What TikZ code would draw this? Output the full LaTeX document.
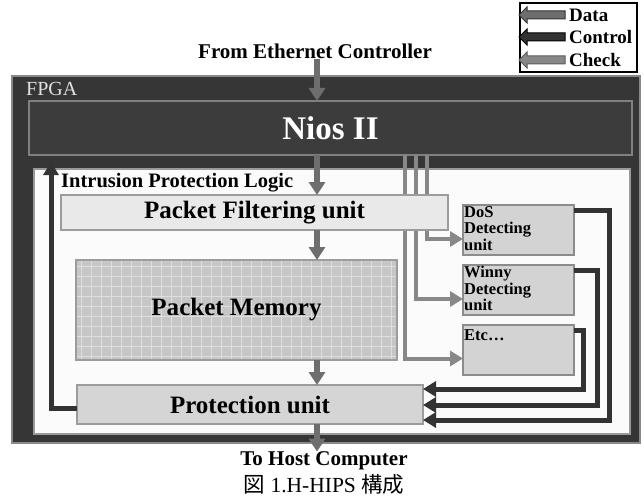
\documentclass[tikz,border=0pt]{standalone}
\usepackage{fontspec}
\setmainfont{Liberation Serif}
\newfontfamily\cjk{Noto Sans CJK JP}
\usetikzlibrary{arrows.meta,shapes.arrows,calc}
\definecolor{fpgafill}{HTML}{363636}
\definecolor{fpgaline}{HTML}{8A8A8A}
\definecolor{niosfill}{HTML}{3C3C3C}
\definecolor{niosline}{HTML}{808080}
\definecolor{iplfill}{HTML}{FBFBFB}
\definecolor{iplline}{HTML}{9A9A9A}
\definecolor{pffill}{HTML}{E9E9E9}
\definecolor{pmfill}{HTML}{C6C6C6}
\definecolor{pmgrid}{HTML}{DEDEDE}
\definecolor{pufill}{HTML}{D5D5D5}
\definecolor{detfill}{HTML}{D3D3D3}
\definecolor{boxline}{HTML}{9C9C9C}
\definecolor{datac}{HTML}{6E6E6E}
\definecolor{ctrlc}{HTML}{333333}
\definecolor{checkc}{HTML}{888888}
\begin{document}
\begin{tikzpicture}[x=1pt,y=-1pt,
  box/.style={draw, line width=2pt, inner sep=0pt, outer sep=0pt},
  bigtxt/.style={font=\fontsize{25}{30}\selectfont\bfseries},
  dettxt/.style={font=\fontsize{16.5}{16.5}\selectfont\bfseries, align=left, inner sep=1pt, anchor=north west},
  labtxt/.style={font=\fontsize{21}{25}\selectfont\bfseries, inner sep=0pt},
  dataarr/.style={draw=datac, line width=6pt, -{Triangle[width=16pt,length=13pt]}},
  ctrlarr/.style={draw=ctrlc, line width=5pt, -{Triangle[width=15pt,length=13pt]}},
  checkarr/.style={draw=checkc, line width=4pt, -{Triangle[width=15pt,length=13pt]}},
  legarr/.style={single arrow, shape border rotate=180, minimum height=46pt, minimum width=15pt, single arrow head extend=4pt, inner sep=3.5pt, line width=1pt},
  legtxt/.style={font=\fontsize{19}{22}\selectfont\bfseries, anchor=west, inner sep=0pt}
]
\useasboundingbox (0,0) rectangle (644,497);

% legend
\node[draw=black, line width=1.5pt, fill=white, minimum width=117pt, minimum height=69pt, inner sep=0pt] (legend) at (578.5,37.5) {};
\node[legarr, draw=ctrlc, fill=datac] (legdata) at (544,15) {};
\node[legarr, draw=black, fill=ctrlc] (legctrl) at (544,37) {};
\node[legarr, draw=ctrlc!80, fill=checkc] (legcheck) at (544,60) {};
\node[legtxt] (ltdata) at (569,15) {Data};
\node[legtxt] (ltctrl) at (569,37) {Control};
\node[legtxt] (ltcheck) at (569,60) {Check};

% outer frames
\node[box, draw=fpgaline, fill=fpgafill, minimum width=628pt, minimum height=367pt] (fpga) at (326,259.5) {};
\node[anchor=west, inner sep=0pt, text=white!88!black, font=\fontsize{20}{24}\selectfont] (fpgalab) at (26,89) {FPGA};
\node[box, draw=niosline, fill=niosfill, minimum width=603pt, minimum height=54pt, text=white, font=\fontsize{33}{38}\selectfont\bfseries] (nios) at (330.5,128) {Nios II};
\node[box, draw=iplline, fill=iplfill, minimum width=596pt, minimum height=265pt] (ipl) at (332,301.5) {};
\node[anchor=west, inner sep=0pt, font=\fontsize{20.5}{24}\selectfont\bfseries] (ipllab) at (61,183) {Intrusion Protection Logic};

% external labels
\node[labtxt] (eth) at (315,51) {From Ethernet Controller};
\node[labtxt] (host) at (324,461) {To Host Computer};
\node[inner sep=0pt, font=\fontsize{21.5}{25}\selectfont] (cap) at (324,484) {{\cjk 図} 1.H-HIPS {\cjk 構成}};

% column coordinates
\coordinate (colx) at (317,0);
\coordinate (upx) at (51,0);
\coordinate (k1) at (427,0);
\coordinate (k2) at (416,0);
\coordinate (k3) at (405,0);

% detector boxes
\node[box, draw=boxline!90!black, fill=detfill, minimum width=111pt, minimum height=50pt] (dos) at (518.5,230) {};
\node[dettxt] (dostxt) at (dos.north west) {DoS\\Detecting\\unit};
\node[box, draw=boxline!90!black, fill=detfill, minimum width=111pt, minimum height=50pt] (win) at (518.5,290) {};
\node[dettxt] (wintxt) at (win.north west) {Winny\\Detecting\\unit};
\node[box, draw=boxline!90!black, fill=detfill, minimum width=111pt, minimum height=50pt] (etc) at (518.5,350) {};
\node[dettxt] (etctxt) at ($(etc.north west)+(0,3)$) {Etc\dots};

% check lines (behind packet filtering unit)
\draw[checkarr] (nios.south -| k1) |- ($(dos.west)+(0,9)$);
\draw[checkarr] (nios.south -| k2) |- ($(win.west)+(0,9)$);
\draw[checkarr] (nios.south -| k3) |- ($(etc.west)+(0,8.5)$);

% inner units
\node[box, draw=boxline, fill=pffill, minimum width=387pt, minimum height=35pt, bigtxt] (pf) at (254.5,212.5) {Packet Filtering unit};
\node[box, draw=boxline, fill=pmfill, minimum width=321pt, minimum height=100pt, bigtxt,
  path picture={\draw[pmgrid, line width=0.7pt, step=10pt] (path picture bounding box.south west) grid (path picture bounding box.north east);}] (pm) at (236.5,310) {Packet Memory};
\node[box, draw=boxline, fill=pufill, minimum width=346pt, minimum height=39pt, bigtxt] (pu) at (250,404.5) {Protection unit};

% data path
\draw[dataarr] (eth.south -| colx) -- (nios.north -| colx);
\draw[dataarr] (nios.south -| colx) -- (pf.north -| colx);
\draw[dataarr] (pf.south -| colx) -- (pm.north -| colx);
\draw[dataarr] (pm.south -| colx) -- (pu.north -| colx);
\draw[dataarr] (pu.south -| colx) -- (host.north -| colx);

% control paths
\draw[ctrlarr, shorten >=7pt] ($(pu.west)+(0,4)$) -| (upx |- nios.south);
\draw[ctrlarr] ($(dos.east)+(0,-20)$) -- ++(35,0) |- ($(pu.east)+(0,15.5)$);
\draw[ctrlarr] ($(win.east)+(0,-20)$) -- ++(23,0) |- ($(pu.east)+(0,0.5)$);
\draw[ctrlarr] ($(etc.east)+(0,-20)$) -- ++(9,0) |- ($(pu.east)+(0,-15.5)$);
\end{tikzpicture}
\end{document}
